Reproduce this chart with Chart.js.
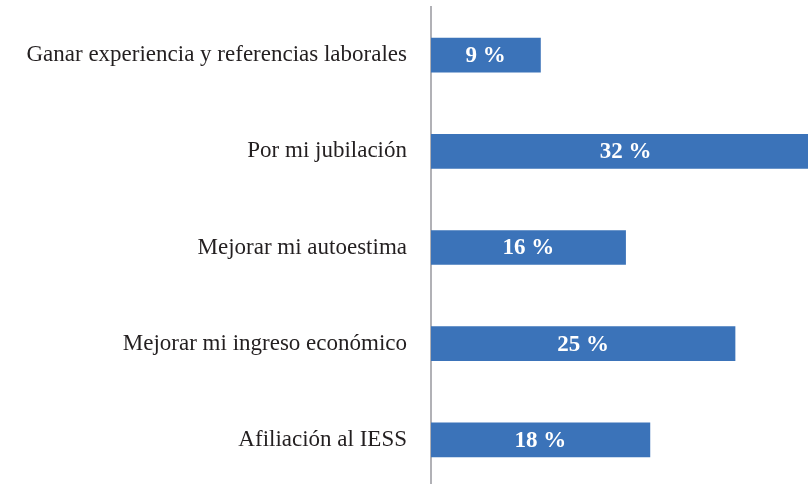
<!DOCTYPE html>
<html lang="es">
<head>
  <meta charset="UTF-8">
  <title>Motivos</title>
  <script src="https://cdn.jsdelivr.net/npm/chart.js"></script>
  <style>
    html, body { margin: 0; padding: 0; background: #fff; overflow: hidden; }
    .chart-container { position: relative; width: 808px; height: 488px; }
  </style>
</head>
<body>
  <div class="chart-container">
    <canvas id="motivos-chart"></canvas>
  </div>

  <script>
    // Datos
    const categories = [
      'Ganar experiencia y referencias laborales',
      'Por mi jubilación',
      'Mejorar mi autoestima',
      'Mejorar mi ingreso económico',
      'Afiliación al IESS'
    ];
    const percentages = [9, 32, 16, 25, 18];

    // Etiquetas blancas centradas en cada barra
    const valueLabels = {
      id: 'valueLabels',
      afterDatasetsDraw(chart) {
        const ctx = chart.ctx;
        const meta = chart.getDatasetMeta(0);
        ctx.save();
        ctx.fillStyle = '#ffffff';
        ctx.font = 'bold 23px "Liberation Serif", "DejaVu Serif", serif';
        ctx.textAlign = 'center';
        ctx.textBaseline = 'middle';
        meta.data.forEach((bar, i) => {
          const cx = (bar.base + bar.x) / 2;
          ctx.fillText(percentages[i] + ' %', cx, bar.y + 1);
        });
        ctx.restore();
      }
    };

    const ctx = document.getElementById('motivos-chart').getContext('2d');
    new Chart(ctx, {
      type: 'bar',
      data: {
        labels: categories,
        datasets: [{
          data: percentages,
          backgroundColor: '#3b73b9',
          barThickness: 34
        }]
      },
      options: {
        indexAxis: 'y',
        responsive: true,
        maintainAspectRatio: false,
        animation: false,
        layout: { padding: { top: 7, right: 0, bottom: 0, left: 0 } },
        plugins: {
          legend: { display: false },
          tooltip: { enabled: false }
        },
        scales: {
          x: {
            min: 0,
            max: 31,
            display: false,
            grid: { display: false }
          },
          y: {
            afterFit(scale) {
              scale.width = 431;
              scale.paddingTop = 0;
              scale.paddingBottom = 0;
            },
            grid: { display: false, drawTicks: false },
            border: { display: true, color: '#b1b1b6', width: 2 },
            ticks: {
              color: '#231f20',
              padding: 24,
              font: { family: '"Liberation Serif", "DejaVu Serif", serif', size: 23 }
            }
          }
        }
      },
      plugins: [valueLabels]
    });
  </script>
</body>
</html>
